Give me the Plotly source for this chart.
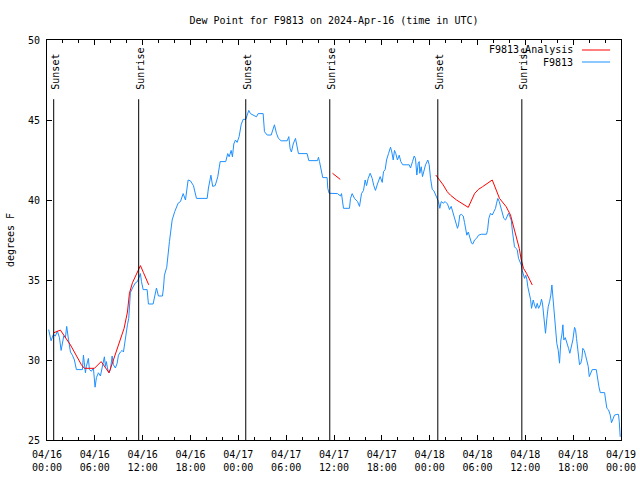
import pandas as pd
import plotly.graph_objects as go

base = pd.Timestamp("2024-04-16 00:00")

# F9813 observations: hours since 2024-04-16 00:00 UTC, dew point (F)
obs_hours = [0.21, 0.51, 0.80, 1.05, 1.30, 1.56, 1.77, 1.93, 2.10, 2.31, 2.47, 2.69, 2.94, 3.19, 3.44, 3.69,
             4.19, 4.44, 4.57, 4.69, 4.82, 4.94, 5.19, 5.32, 5.57, 5.82, 6.03, 6.20, 6.45, 6.70, 6.95, 7.20,
             7.33, 7.45, 7.58, 7.74, 7.95, 8.17, 8.33, 8.58, 8.80, 8.96, 9.21, 9.42, 9.59, 9.84, 10.09, 10.25,
             10.46, 10.72, 11.10, 11.34, 11.59, 11.72, 11.85, 12.06, 12.56, 12.72, 13.31, 13.48, 13.73, 13.98,
             14.48, 14.61, 14.73, 15.02, 15.19, 15.36, 15.70, 16.02, 16.45, 16.74, 17.08, 17.37, 17.70, 17.99,
             18.37, 18.75, 20.09, 20.25, 20.56, 20.78, 21.10, 21.42, 21.72, 22.42, 22.67, 22.85, 23.10, 23.26,
             23.43, 23.64, 23.85, 24.10, 24.35, 24.60, 24.93, 25.02, 25.31, 25.52, 25.90, 26.27, 26.49, 27.11,
             27.28, 27.62, 28.12, 28.32, 28.53, 28.78, 29.03, 29.37, 30.13, 30.33, 30.50, 30.66, 30.88, 31.17,
             31.38, 31.54, 32.63, 32.84, 33.93, 34.05, 34.18, 34.39, 34.59, 35.14, 35.22, 35.39, 35.90, 36.19,
             36.44, 36.81, 36.94, 37.19, 37.94, 38.07, 38.28, 38.57, 38.95, 39.20, 39.45, 39.70, 39.91, 40.08,
             40.29, 40.54, 40.79, 40.99, 41.20, 41.45, 41.79, 42.05, 42.21, 42.42, 42.59, 42.84, 43.09, 43.25,
             43.43, 43.59, 43.75, 43.96, 44.18, 44.38, 44.63, 45.43, 45.60, 45.85, 46.06, 46.22, 46.39, 46.56,
             46.69, 46.76, 46.94, 47.10, 47.27, 47.48, 47.77, 47.94, 48.11, 48.32, 48.52, 48.73, 48.95, 49.11,
             49.27, 49.45, 49.70, 49.95, 50.24, 50.49, 50.70, 50.90, 51.08, 51.28, 51.49, 51.62, 51.78, 51.99,
             52.21, 52.37, 52.53, 52.66, 52.84, 53.00, 53.25, 53.41, 53.63, 53.88, 54.13, 54.47, 55.13, 55.26,
             55.42, 55.63, 55.85, 56.05, 56.26, 56.39, 56.55, 56.73, 56.89, 57.10, 57.30, 57.52, 57.73, 57.89,
             58.06, 58.23, 58.39, 58.52, 58.64, 58.81, 58.98, 59.15, 59.31, 59.49, 59.61, 59.74, 59.90, 60.06,
             60.19, 60.31, 60.49, 60.65, 60.78, 60.99, 61.15, 61.32, 61.49, 61.66, 61.87, 62.03, 62.16, 62.32,
             62.53, 62.70, 62.87, 63.04, 63.20, 63.33, 63.45, 63.63, 63.79, 63.95, 64.13, 64.29, 64.46, 64.58,
             64.71, 64.83, 65.01, 65.26, 65.42, 65.58, 65.80, 65.96, 66.17, 66.30, 66.42, 66.55, 66.68, 66.80,
             66.96, 67.09, 67.21, 67.39, 67.55, 67.72, 67.89, 68.02, 68.18, 68.39, 68.90, 69.06, 69.23, 69.40,
             69.94, 70.07, 70.23, 70.44, 70.65, 70.81, 70.98, 71.19, 71.48, 71.69, 71.78, 71.90]
obs_values = [31.9, 31.2, 31.6, 31.5, 31.8, 31.4, 30.6, 31.2, 31.5, 31.4, 32.1, 31.3, 30.5, 30.3, 30.0, 29.4,
              29.4, 29.4, 30.3, 29.5, 29.2, 29.6, 30.1, 29.4, 29.3, 29.5, 28.3, 28.9, 29.2, 29.0, 29.6, 30.2,
              29.6, 29.9, 29.5, 29.2, 29.4, 30.25, 29.7, 29.5, 29.8, 30.3, 30.5, 30.6, 30.5, 31.46, 32.2, 32.6,
              34.2, 34.5, 34.83, 34.9, 35.2, 35.4, 34.9, 34.4, 34.4, 33.5, 33.5, 33.96, 34.5, 34.0,
              34.0, 34.5, 35.3, 35.8, 36.8, 37.4, 38.75, 39.27, 39.8, 39.9, 40.4, 40.0, 41.25, 41.2,
              40.9, 40.1, 40.1, 40.75, 41.55, 40.85, 40.9, 41.45, 42.4, 42.4, 42.9, 42.7, 43.1, 42.7,
              43.5, 43.75, 43.6, 43.96, 44.7, 45.04, 45.04, 45.17, 45.6, 45.4, 45.3, 45.2, 45.4, 45.4,
              44.27, 44.06, 44.06, 44.4, 44.7, 44.17, 43.85, 43.7, 43.7, 43.96, 43.2, 43.0, 43.5, 43.85,
              43.23, 42.9, 42.9, 42.46, 42.46, 42.67, 42.4, 41.77, 41.4, 41.4, 40.73, 40.42, 40.42, 40.4,
              40.4, 40.25, 40.4, 39.48, 39.48, 40.1, 40.4, 40.1, 39.9, 39.6, 40.4, 40.6, 41.25, 40.9,
              41.35, 41.67, 41.35, 40.9, 40.6, 41.0, 41.46, 41.1, 41.77, 41.9, 42.5, 42.9, 43.3, 43.0,
              42.5, 43.1, 42.9, 42.5, 42.8, 42.4, 42.2, 42.2, 42.0, 42.4, 42.75, 42.6, 41.56, 42.3,
              42.4, 41.67, 42.08, 41.46, 41.8, 42.2, 42.5, 42.2, 41.35, 40.67, 40.58, 40.3, 40.04, 39.9,
              39.48, 39.9, 39.8, 39.9, 39.75, 39.4, 39.6, 39.27, 38.96, 38.65, 38.23, 38.44, 39.06, 39.1,
              39.0, 38.6, 38.1, 37.8, 38.0, 37.7, 37.3, 37.25, 37.5, 37.6, 37.8, 37.86, 37.86, 38.1,
              38.85, 39.17, 39.06, 39.27, 39.48, 39.8, 40.1, 39.9, 39.58, 39.17, 38.85, 38.75, 38.96, 39.17,
              38.96, 38.75, 38.0, 37.3, 37.08, 36.98, 36.9, 36.35, 36.15, 35.94, 35.6, 35.4, 35.1, 35.3,
              35.04, 34.58, 34.17, 33.8, 33.23, 33.75, 33.44, 33.23, 33.54, 33.23, 33.44, 33.8, 33.5, 32.7,
              31.67, 32.6, 33.33, 33.65, 34.06, 34.69, 33.96, 32.7, 31.46, 31.04, 30.6, 29.8, 31.25, 31.56,
              32.2, 31.25, 31.4, 31.04, 30.73, 30.42, 30.94, 31.25, 32.04, 31.9, 31.35, 30.83, 30.0, 29.7,
              29.8, 30.1, 30.73, 30.6, 30.3, 30.0, 29.6, 28.96, 29.17, 29.4, 29.4, 28.75, 28.33, 27.96,
              27.96, 27.5, 26.98, 26.88, 26.56, 26.08, 26.35, 26.56, 26.6, 26.6, 26.15, 25.2]

# F9813 analysis (three segments, None = gap)
ana_hours = [0.84, 1.68, 2.94, 4.32, 4.69, 5.95, 6.79, 7.79, 8.33, 8.96, 9.67, 10.09, 10.34, 10.72, 11.09,
             11.38, 11.72, 12.10, 12.56, 12.76, None,
             35.81, 36.78, None,
             48.77, 49.20, 49.70, 50.20, 50.61, 51.37, 52.84, 53.63, 54.13, 54.63, 55.85, 56.76, 57.60,
             58.14, 58.52, 58.90, 59.24, 59.49, 59.77, 60.15, 60.87]
ana_values = [31.7, 31.87, 30.94, 29.7, 29.48, 29.48, 29.9, 29.2, 30.0, 30.94, 31.98, 33.0, 34.17, 34.83, 35.2,
              35.5, 35.9, 35.46, 35.0, 34.7, None,
              41.67, 41.29, None,
              41.56, 41.29, 40.94, 40.52, 40.3, 40.0, 39.54, 40.4, 40.67, 40.83, 41.25, 40.1, 39.58,
              39.06, 38.4, 37.7, 36.98, 36.25, 35.73, 35.42, 34.69]

sun_hours = [0.84, 11.5, 24.93, 35.47, 49.02, 59.56]
sun_labels = ["Sunset", "Sunrise", "Sunset", "Sunrise", "Sunset", "Sunrise"]
sun_line_top = 46.3
label_bottom = 46.75

tick_hours = list(range(0, 73, 6))
y_ticks = [25, 30, 35, 40, 45, 50]


def to_time(hours):
    return [None if h is None else base + pd.Timedelta(hours=h) for h in hours]


FONT = "DejaVu Sans Mono"
BLUE = "#1E90FF"
RED = "#FF0000"

fig = go.Figure()
fig.add_trace(go.Scatter(x=to_time(obs_hours), y=obs_values, mode="lines",
                         line=dict(color=BLUE, width=1), name="F9813"))
fig.add_trace(go.Scatter(x=to_time(ana_hours), y=ana_values, mode="lines",
                         line=dict(color=RED, width=1), name="F9813_Analysis",
                         connectgaps=False))

for h, lab in zip(sun_hours, sun_labels):
    t = base + pd.Timedelta(hours=h)
    fig.add_shape(type="line", x0=t, x1=t, y0=25, y1=sun_line_top, xref="x", yref="y",
                  line=dict(color="black", width=1))
    fig.add_annotation(x=t, y=label_bottom, xref="x", yref="y", text=lab, textangle=-90,
                       showarrow=False, xanchor="center", yanchor="bottom", xshift=1,
                       font=dict(family=FONT, size=10, color="black"))

# manual gnuplot-style legend (text left, sample line right)
legend_items = [("F9813_Analysis", RED, 0.975), ("F9813", BLUE, 0.945)]
for text, col, yp in legend_items:
    fig.add_annotation(x=0.92, y=yp, xref="paper", yref="paper", text=text, showarrow=False,
                       xanchor="right", yanchor="middle", font=dict(family=FONT, size=10, color="black"))
    fig.add_shape(type="line", x0=0.932, x1=0.981, y0=yp, y1=yp, xref="paper", yref="paper",
                  line=dict(color=col, width=1))

tick_vals = [base + pd.Timedelta(hours=h) for h in tick_hours]
tick_text = [t.strftime("%m/%d") + "<br>" + t.strftime("%H:%M") for t in tick_vals]

fig.update_layout(
    width=640, height=480,
    margin=dict(l=47, r=19, t=40, b=40),
    paper_bgcolor="white", plot_bgcolor="white",
    showlegend=False,
    font=dict(family=FONT, size=10, color="black"),
    title=dict(text="Dew Point for F9813 on 2024-Apr-16 (time in UTC)", x=0.5, xref="paper",
               xanchor="center", y=1 - 20 / 480, yanchor="middle",
               font=dict(family=FONT, size=10, color="black")),
)
fig.update_xaxes(range=[base, base + pd.Timedelta(hours=72)], tickmode="array", tickvals=tick_vals,
                 ticktext=tick_text, ticks="inside", ticklen=5, tickcolor="black", showline=True,
                 linecolor="black", linewidth=1, mirror="allticks", showgrid=False, zeroline=False,
                 automargin=False, ticklabelstandoff=5,
                 minor=dict(dtick=2 * 3600 * 1000, ticks="inside", ticklen=3, tickcolor="black", showgrid=False),
                 tickfont=dict(family=FONT, size=10, color="black"))
fig.update_yaxes(range=[25, 50], tickmode="array", tickvals=y_ticks, ticks="inside", ticklen=5,
                 tickcolor="black", showline=True, linecolor="black", linewidth=1, mirror="allticks",
                 showgrid=False, zeroline=False, ticklabelstandoff=4, automargin=False,
                 title=dict(text="degrees F", standoff=11, font=dict(family=FONT, size=10, color="black")),
                 tickfont=dict(family=FONT, size=10, color="black"))

fig.write_html("out.html", config={"displayModeBar": False},
               post_script="document.body.style.margin='0';")
